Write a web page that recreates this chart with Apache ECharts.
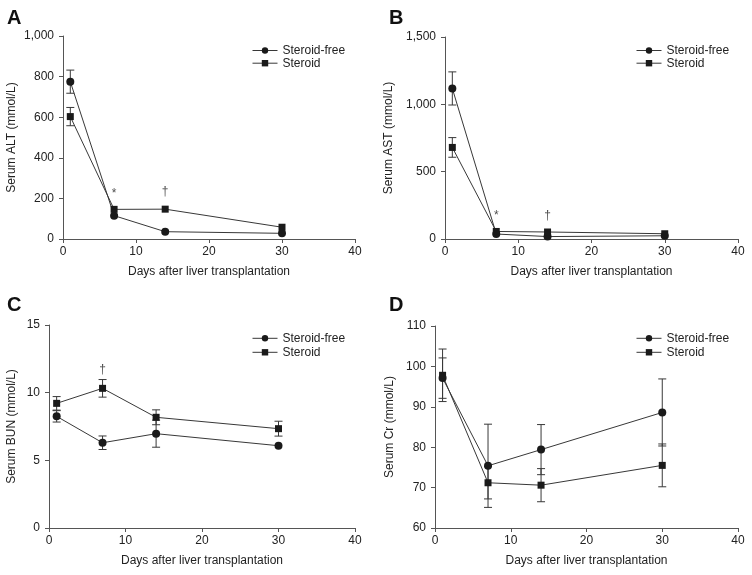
<!DOCTYPE html>
<html><head><meta charset="utf-8">
<script src="https://cdn.jsdelivr.net/npm/echarts@6/dist/echarts.min.js"></script>
<style>html,body{margin:0;padding:0;background:#fff}#c{width:752px;height:575px}</style>
</head><body><div id="c"></div>
<script>
var days = [1, 7, 14, 30];
var seriesNames = ['Steroid-free', 'Steroid'];
var panelLetters = ['A', 'B', 'C', 'D'];
var yTitles = ['Serum ALT (mmol/L)', 'Serum AST (mmol/L)', 'Serum BUN (mmol/L)', 'Serum Cr (mmol/L)'];
var xTitle = 'Days after liver transplantation';

var altFree = [775, 115, 36, 28];
var altFreeErr = [57, 0, 0, 0];
var altSteroid = [603, 146, 147, 58];
var altSteroidErr = [45, 0, 0, 0];

var astFree = [1118, 37, 18, 24];
var astFreeErr = [123, 0, 0, 0];
var astSteroid = [680, 56, 52, 39];
var astSteroidErr = [73, 0, 0, 0];

var bunFree = [8.25, 6.3, 6.97, 6.08];
var bunFreeErr = [0.42, 0.5, 1.0, 0];
var bunSteroid = [9.21, 10.32, 8.18, 7.34];
var bunSteroidErr = [0.5, 0.65, 0.55, 0.55];

var crFree = [97.1, 75.4, 79.4, 88.6];
var crFreeErr = [5.0, 10.3, 6.2, 8.3];
var crSteroid = [97.8, 71.2, 70.6, 75.5];
var crSteroidErr = [6.5, 4.0, 4.1, 5.3];

// significance marks: [panel, day, value, text]
var annotations = [
  [0, 7, 222, '*'], [0, 14, 233, '\u2020'],
  [1, 7, 172, '*'], [1, 14, 172, '\u2020'],
  [2, 7, 11.67, '\u2020']
];

var yMin = [0, 0, 0, 60];
var yMax = [1000, 1500, 15, 110];
var yInterval = [200, 500, 5, 10];

var panelFree = [altFree, astFree, bunFree, crFree];
var panelFreeErr = [altFreeErr, astFreeErr, bunFreeErr, crFreeErr];
var panelSteroid = [altSteroid, astSteroid, bunSteroid, crSteroid];
var panelSteroidErr = [altSteroidErr, astSteroidErr, bunSteroidErr, crSteroidErr];

var grids = [
  {left: 63, top: 36, width: 292, height: 203},
  {left: 445, top: 37, width: 293, height: 202},
  {left: 49, top: 325, width: 306, height: 203},
  {left: 435, top: 326, width: 303, height: 202}
];
var yNameGap = [45, 50, 31, 39];
var legendPos = [
  {left: 252, top: 44.5, gap: 0.7},
  {left: 636, top: 44.5, gap: 0.7},
  {left: 252, top: 332.3, gap: 2},
  {left: 636, top: 332.3, gap: 2}
];
var letterPos = [[7, 8], [389, 8], [7, 295], [389, 295]];

var FONT = 'Liberation Sans, Arial, sans-serif';
var TXT = '#222';
var AX = '#555';
var LINE = '#383838';
var MARK = '#1a1a1a';

function fmt(v) { return v >= 1000 ? v.toLocaleString('en-US') : String(v); }

var option = {
  animation: false,
  backgroundColor: '#fff',
  textStyle: {fontFamily: FONT},
  title: [], grid: [], xAxis: [], yAxis: [], legend: [], series: []
};

function errSeries(g, vals, errs) {
  var data = [];
  for (var i = 0; i < days.length; i++) if (errs[i] > 0) data.push([days[i], vals[i], errs[i]]);
  return {
    type: 'custom', xAxisIndex: g, yAxisIndex: g, z: 1, silent: true,
    data: data,
    encode: {x: 0, y: 1},
    renderItem: function (params, api) {
      var x = api.value(0), y = api.value(1), e = api.value(2);
      var top = api.coord([x, y + e]);
      var bot = api.coord([x, y - e]);
      var hw = 4;
      var st = {stroke: LINE, lineWidth: 1};
      return {type: 'group', children: [
        {type: 'line', shape: {x1: top[0], y1: top[1], x2: bot[0], y2: bot[1]}, style: st},
        {type: 'line', shape: {x1: top[0] - hw, y1: top[1], x2: top[0] + hw, y2: top[1]}, style: st},
        {type: 'line', shape: {x1: bot[0] - hw, y1: bot[1], x2: bot[0] + hw, y2: bot[1]}, style: st}
      ]};
    }
  };
}

for (var g = 0; g < 4; g++) {
  option.title.push({text: panelLetters[g], left: letterPos[g][0], top: letterPos[g][1], padding: 0,
    textStyle: {fontSize: 20, fontWeight: 'bold', color: '#111', fontFamily: FONT}});
  option.grid.push(grids[g]);
  option.xAxis.push({
    type: 'value', gridIndex: g, min: 0, max: 40, interval: 10,
    name: xTitle, nameLocation: 'middle', nameGap: 27,
    nameTextStyle: {fontSize: 12, color: TXT, fontFamily: FONT},
    axisLine: {show: true, lineStyle: {color: AX, width: 1}},
    axisTick: {show: true, length: 4, lineStyle: {color: AX}},
    axisLabel: {fontSize: 12, color: TXT, margin: 7, fontFamily: FONT},
    splitLine: {show: false}
  });
  option.yAxis.push({
    type: 'value', gridIndex: g, min: yMin[g], max: yMax[g], interval: yInterval[g],
    name: yTitles[g], nameLocation: 'middle', nameGap: yNameGap[g],
    nameTextStyle: {fontSize: 12, color: TXT, fontFamily: FONT},
    axisLine: {show: true, lineStyle: {color: AX, width: 1}},
    axisTick: {show: true, length: 4, lineStyle: {color: AX}},
    axisLabel: {fontSize: 12, color: TXT, margin: 9, fontFamily: FONT, formatter: fmt},
    splitLine: {show: false}
  });
  option.legend.push({
    orient: 'vertical', left: legendPos[g].left, top: legendPos[g].top, padding: 0,
    itemWidth: 25, itemHeight: 8, itemGap: legendPos[g].gap,
    data: seriesNames,
    lineStyle: {width: 1},
    textStyle: {fontSize: 12, color: TXT, fontFamily: FONT},
    selectedMode: false
  });

  option.series.push(errSeries(g, panelFree[g], panelFreeErr[g]));
  option.series.push(errSeries(g, panelSteroid[g], panelSteroidErr[g]));

  var freeData = days.map(function (d, i) { return [d, panelFree[g][i]]; });
  var sterData = days.map(function (d, i) { return [d, panelSteroid[g][i]]; });
  option.series.push({
    name: seriesNames[0], type: 'line', xAxisIndex: g, yAxisIndex: g, z: 3,
    data: freeData, symbol: 'circle', symbolSize: 8, showAllSymbol: true,
    lineStyle: {color: LINE, width: 1}, itemStyle: {color: MARK, borderWidth: 0}
  });
  option.series.push({
    name: seriesNames[1], type: 'line', xAxisIndex: g, yAxisIndex: g, z: 3,
    data: sterData, symbol: 'rect', symbolSize: 7, showAllSymbol: true,
    lineStyle: {color: LINE, width: 1}, itemStyle: {color: MARK, borderWidth: 0}
  });

  var ann = annotations.filter(function (a) { return a[0] === g; }).map(function (a) {
    return {value: [a[1], a[2]], label: {formatter: a[3]}};
  });
  if (ann.length) {
    option.series.push({
      type: 'scatter', xAxisIndex: g, yAxisIndex: g, z: 4, silent: true,
      data: ann, symbolSize: 1, itemStyle: {color: 'rgba(0,0,0,0)'},
      label: {show: true, position: 'inside', fontSize: 12, color: TXT, fontFamily: FONT}
    });
  }
}

var chart = echarts.init(document.getElementById('c'), null, {renderer: 'canvas'});
chart.setOption(option);
</script>
</body></html>
